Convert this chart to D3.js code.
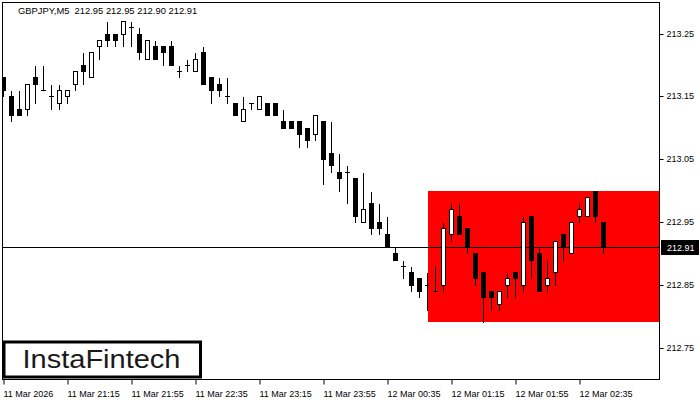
<!DOCTYPE html>
<html>
<head>
<meta charset="utf-8">
<script src="https://cdn.jsdelivr.net/npm/d3@7"></script>
<style>
  html, body { margin: 0; padding: 0; background: #fff; }
  svg { display: block; }
  text { font-family: "Liberation Sans", Arial, sans-serif; }
</style>
</head>
<body>
<svg id="chart" width="700" height="400"></svg>
<script>
// ---- data (GBPJPY, M5) ----
const symbolTitle = "GBPJPY,M5  212.95 212.95 212.90 212.91";
const opens  = [213.18,213.15,213.13,213.13,213.18,213.16,213.15,213.14,213.15,213.17,
                213.20,213.18,213.23,213.25,213.25,213.25,213.26,213.25,213.21,213.23,
                213.23,213.23,213.19,213.20,213.19,213.22,213.18,213.17,213.15,213.14,
                213.11,213.14,213.13,213.14,213.14,213.11,213.11,213.11,213.10,213.09,
                213.11,213.06,213.03,213.03,213.02,212.95,212.98,212.95,212.93,212.90,
                212.88,212.87,212.86,212.85,212.84,212.85,212.93,212.96,212.94,212.90,
                212.87,212.84,212.82,212.85,212.87,212.85,212.96,212.90,212.85,212.87,
                212.93,212.90,212.96,212.96,213.00,212.95];
const highs  = [213.18,213.16,213.16,213.17,213.20,213.20,213.17,213.17,213.16,213.19,
                213.22,213.22,213.24,213.27,213.25,213.27,213.27,213.26,213.24,213.24,
                213.23,213.24,213.20,213.21,213.22,213.23,213.18,213.18,213.18,213.14,
                213.15,213.14,213.15,213.14,213.14,213.13,213.11,213.11,213.10,213.12,
                213.11,213.11,213.06,213.04,213.02,213.03,213.00,212.98,212.96,212.91,
                212.89,212.88,212.86,212.87,212.88,212.95,212.98,212.98,212.94,212.90,
                212.87,212.84,212.84,212.87,212.87,212.96,212.96,212.91,212.89,212.92,
                212.93,212.95,212.98,212.99,213.00,212.95];
const lows   = [213.15,213.11,213.12,213.12,213.14,213.16,213.13,213.13,213.14,213.16,
                213.17,213.18,213.21,213.23,213.23,213.23,213.23,213.21,213.21,213.21,
                213.20,213.20,213.18,213.19,213.19,213.17,213.14,213.15,213.14,213.12,
                213.11,213.13,213.13,213.12,213.12,213.10,213.10,213.07,213.07,213.08,
                213.01,213.03,213.00,212.98,212.95,212.95,212.93,212.93,212.91,212.89,
                212.86,212.84,212.83,212.81,212.84,212.84,212.92,212.93,212.90,212.85,
                212.79,212.81,212.81,212.83,212.83,212.84,212.86,212.84,212.84,212.85,
                212.89,212.90,212.95,212.96,212.95,212.90];
const closes = [213.16,213.12,213.12,213.17,213.17,213.16,213.15,213.16,213.16,213.19,
                213.19,213.22,213.24,213.24,213.24,213.27,213.26,213.22,213.24,213.21,
                213.22,213.20,213.19,213.20,213.21,213.17,213.16,213.16,213.15,213.12,
                213.13,213.14,213.15,213.12,213.12,213.10,213.10,213.09,213.08,213.12,
                213.05,213.04,213.02,213.03,212.96,212.97,212.94,212.94,212.91,212.89,
                212.88,212.85,212.84,212.85,212.84,212.94,212.97,212.93,212.91,212.86,
                212.83,212.83,212.84,212.86,212.86,212.95,212.89,212.84,212.86,212.92,
                212.91,212.95,212.97,212.99,212.96,212.91];
const timeTickBars   = [0, 8, 16, 24, 32, 40, 48, 56, 64, 72];
const timeTickLabels = ["11 Mar 2026","11 Mar 21:15","11 Mar 21:55","11 Mar 22:35","11 Mar 23:15",
                        "11 Mar 23:55","12 Mar 00:35","12 Mar 01:15","12 Mar 01:55","12 Mar 02:35"];
const priceTicks = [213.25, 213.15, 213.05, 212.95, 212.85, 212.75];
const zoneStartBar = 53;
const zoneHigh = 213.00;
const zoneLow  = 212.79;
const lastPrice = 212.91;
const logoText = "InstaFintech";

// ---- layout ----
const L = 2.5, T = 2.5, R = 659.5, B = 379.5;
const svg = d3.select("#chart");
const x = d3.scaleLinear().domain([0, 82]).range([3.5, 659.5]);
const y = d3.scaleLinear().domain([212.75, 213.25]).range([347.5, 33.5]);
const sy = v => Math.round(y(v)) + 0.5;

const bars = opens.map((o, i) => ({ i, o, h: highs[i], l: lows[i], c: closes[i] }));

svg.append("defs").append("clipPath").attr("id", "plot")
  .append("rect").attr("x", L).attr("y", T).attr("width", R - L).attr("height", B - T);

const plot = svg.append("g").attr("clip-path", "url(#plot)");

// red zone
plot.append("rect")
  .attr("x", Math.round(x(zoneStartBar)))
  .attr("y", Math.round(y(zoneHigh)))
  .attr("width", R - Math.round(x(zoneStartBar)))
  .attr("height", Math.round(y(zoneLow)) - Math.round(y(zoneHigh)))
  .attr("fill", "#ff0000");

// current price line
plot.append("line")
  .attr("x1", L).attr("x2", R)
  .attr("y1", sy(lastPrice)).attr("y2", sy(lastPrice))
  .attr("stroke", "#000").attr("stroke-width", 1);

// candles
const cg = plot.append("g");
const cand = cg.selectAll("g.c").data(bars).join("g").attr("class", "c");
cand.append("line")
  .attr("x1", d => x(d.i)).attr("x2", d => x(d.i))
  .attr("y1", d => sy(d.h)).attr("y2", d => sy(d.l) + 0.5)
  .attr("stroke", "#000").attr("stroke-width", 1).attr("shape-rendering", "crispEdges");
cand.filter(d => d.o !== d.c).append("rect")
  .attr("x", d => x(d.i) - 2)
  .attr("width", 4)
  .attr("y", d => sy(Math.max(d.o, d.c)))
  .attr("height", d => Math.max(1, sy(Math.min(d.o, d.c)) - sy(Math.max(d.o, d.c))))
  .attr("fill", d => d.c > d.o ? "#fff" : "#000")
  .attr("stroke", "#000").attr("stroke-width", 1).attr("shape-rendering", "crispEdges");
cand.filter(d => d.o === d.c).append("line")
  .attr("x1", d => x(d.i) - 2.5).attr("x2", d => x(d.i) + 2.5)
  .attr("y1", d => sy(d.o)).attr("y2", d => sy(d.o))
  .attr("stroke", "#000").attr("stroke-width", 1).attr("shape-rendering", "crispEdges");

// frame
svg.append("rect").attr("x", L).attr("y", T).attr("width", R - L).attr("height", B - T)
  .attr("fill", "none").attr("stroke", "#000").attr("stroke-width", 1);

// price axis
const yAxis = svg.append("g").attr("transform", `translate(${R},0)`)
  .call(d3.axisRight(y).tickValues(priceTicks).tickSize(4).tickPadding(3).tickFormat(d3.format(".2f")));
yAxis.select(".domain").remove();
yAxis.selectAll(".tick").attr("transform", d => `translate(0,${sy(d)})`);
yAxis.selectAll(".tick line").attr("stroke", "#000");
yAxis.selectAll(".tick text").attr("font-size", 9).attr("fill", "#000")
  .attr("font-family", "Liberation Sans, Arial, sans-serif");

// last price label
const lp = svg.append("g").attr("transform", `translate(${R + 1.5},${sy(lastPrice)})`);
lp.append("rect").attr("x", 0).attr("y", -7.5).attr("width", 38).attr("height", 15).attr("fill", "#000");
lp.append("text").attr("x", 6).attr("y", 3.5).attr("fill", "#fff").attr("font-size", 9)
  .text(d3.format(".2f")(lastPrice));

// time axis
const xAxis = svg.append("g").attr("transform", `translate(0,${B})`)
  .call(d3.axisBottom(x).tickValues(timeTickBars).tickSize(5).tickPadding(6)
    .tickFormat((d, k) => timeTickLabels[k]));
xAxis.select(".domain").remove();
xAxis.selectAll(".tick line").attr("stroke", "#000");
xAxis.selectAll(".tick text").attr("font-size", 9).attr("fill", "#000")
  .attr("text-anchor", "start").attr("x", -0.5)
  .attr("font-family", "Liberation Sans, Arial, sans-serif");

// title
svg.append("text").attr("x", 18).attr("y", 14).attr("font-size", 9.4).attr("fill", "#000")
  .attr("xml:space", "preserve").style("white-space", "pre").text(symbolTitle);

// logo
svg.append("rect").attr("x", 4).attr("y", 342).attr("width", 196.5).attr("height", 35)
  .attr("fill", "#fff").attr("stroke", "#000").attr("stroke-width", 3);
svg.append("text").attr("x", 22.5).attr("y", 368).attr("font-size", 25)
  .attr("font-family", "Lato, 'Open Sans', sans-serif").attr("font-weight", 500)
  .attr("fill", "#1a1a1a").attr("textLength", 158).attr("lengthAdjust", "spacingAndGlyphs")
  .text(logoText);
</script>
</body>
</html>
